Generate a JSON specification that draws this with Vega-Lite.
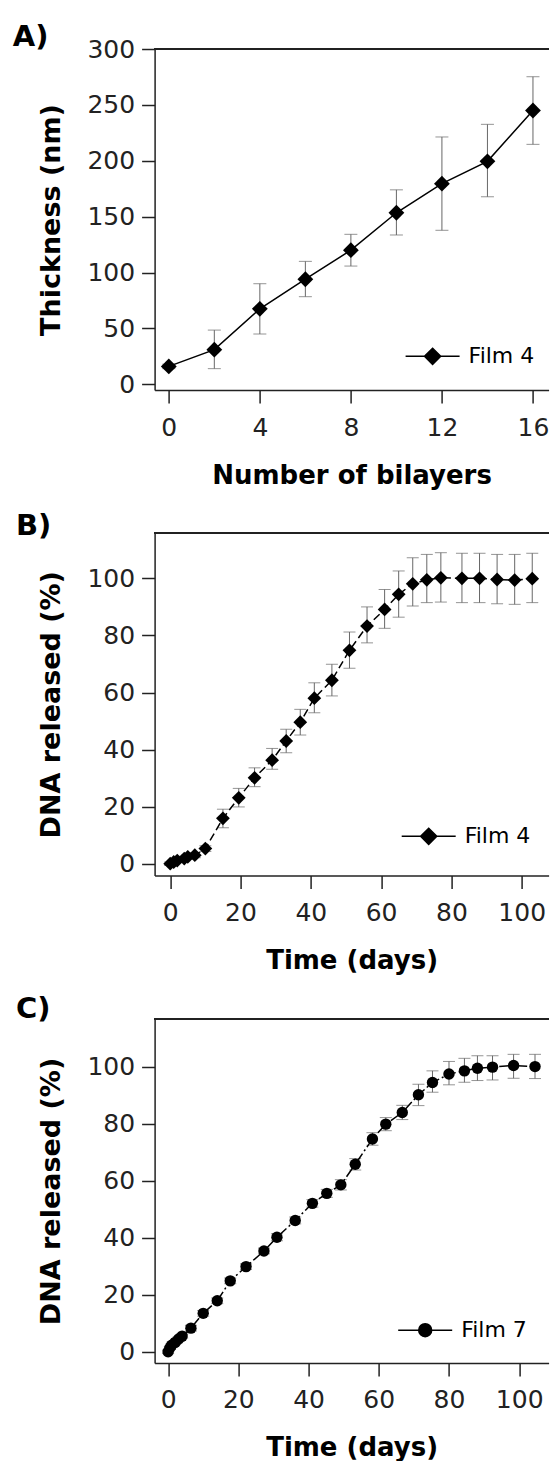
{
  "$schema": "https://vega.github.io/schema/vega-lite/v6.json",
  "autosize": {"type": "pad"},
  "padding": {"left": 12.6, "top": 23, "right": 0, "bottom": 0},
  "background": "white",
  "config": {
    "view": {"stroke": null},
    "font": "DejaVu Sans",
    "axis": {
      "grid": false,
      "domainColor": "#222",
      "domainWidth": 1.5,
      "tickColor": "#222",
      "tickWidth": 1.5,
      "tickSize": 13,
      "labelFont": "DejaVu Sans",
      "labelFontSize": 25,
      "labelColor": "#222",
      "titleFont": "DejaVu Sans",
      "titleFontSize": 26,
      "titleFontWeight": "bold",
      "titleColor": "black"
    },
    "axisX": {"labelPadding": 12, "titlePadding": 22},
    "axisY": {"labelPadding": 7, "titlePadding": 21, "titleFontSize": 27},
    "legend": {
      "labelFont": "DejaVu Sans",
      "labelFontSize": 22,
      "labelColor": "black",
      "labelOffset": 8,
      "padding": 0,
      "symbolStrokeWidth": 1.5,
      "symbolStrokeColor": "black",
      "symbolFillColor": "black",
      "symbolSize": 2916
    }
  },
  "datasets": {
    "a": [
      {"x": 0, "y": 16, "lo": 14, "hi": 18, "film": "Film 4"},
      {"x": 2, "y": 31, "lo": 14, "hi": 48.5, "film": "Film 4"},
      {"x": 4, "y": 67.5, "lo": 45, "hi": 90, "film": "Film 4"},
      {"x": 6, "y": 94, "lo": 78.4, "hi": 110, "film": "Film 4"},
      {"x": 8, "y": 120, "lo": 105.8, "hi": 134.2, "film": "Film 4"},
      {"x": 10, "y": 153.5, "lo": 133.6, "hi": 174, "film": "Film 4"},
      {"x": 12, "y": 179.5, "lo": 137.8, "hi": 221.3, "film": "Film 4"},
      {"x": 14, "y": 199.5, "lo": 167.8, "hi": 232.6, "film": "Film 4"},
      {"x": 16, "y": 245, "lo": 214.7, "hi": 275.2, "film": "Film 4"}
    ],
    "b": [
      {"x": 0, "y": 0, "lo": -0.6, "hi": 0.6, "film": "Film 4"},
      {"x": 1, "y": 0.6, "lo": 0, "hi": 1.2, "film": "Film 4"},
      {"x": 2, "y": 1.1, "lo": 0.4, "hi": 1.8, "film": "Film 4"},
      {"x": 4, "y": 1.8, "lo": 1.0, "hi": 2.6, "film": "Film 4"},
      {"x": 5, "y": 2.4, "lo": 1.6, "hi": 3.2, "film": "Film 4"},
      {"x": 7, "y": 3.0, "lo": 2.1, "hi": 3.9, "film": "Film 4"},
      {"x": 10, "y": 5.3, "lo": 4.3, "hi": 6.3, "film": "Film 4"},
      {"x": 15, "y": 15.9, "lo": 12.6, "hi": 19.1, "film": "Film 4"},
      {"x": 19.5, "y": 23.1, "lo": 19.9, "hi": 26.4, "film": "Film 4"},
      {"x": 24, "y": 30.1, "lo": 27.0, "hi": 33.6, "film": "Film 4"},
      {"x": 29, "y": 36.3, "lo": 33.1, "hi": 40.4, "film": "Film 4"},
      {"x": 33, "y": 43.0, "lo": 38.9, "hi": 47.1, "film": "Film 4"},
      {"x": 37, "y": 49.6, "lo": 45.1, "hi": 54.1, "film": "Film 4"},
      {"x": 41, "y": 58.0, "lo": 52.9, "hi": 63.4, "film": "Film 4"},
      {"x": 46, "y": 64.3, "lo": 58.8, "hi": 69.9, "film": "Film 4"},
      {"x": 51, "y": 74.8, "lo": 68.5, "hi": 81.2, "film": "Film 4"},
      {"x": 56, "y": 83.3, "lo": 77.4, "hi": 90.0, "film": "Film 4"},
      {"x": 61, "y": 89.1, "lo": 82.5, "hi": 96.1, "film": "Film 4"},
      {"x": 65, "y": 94.4, "lo": 86.4, "hi": 102.6, "film": "Film 4"},
      {"x": 69, "y": 98.1, "lo": 90.3, "hi": 107.2, "film": "Film 4"},
      {"x": 73, "y": 99.5, "lo": 91.5, "hi": 108.4, "film": "Film 4"},
      {"x": 77, "y": 100.2, "lo": 91.7, "hi": 109.0, "film": "Film 4"},
      {"x": 83, "y": 100.0, "lo": 91.5, "hi": 108.8, "film": "Film 4"},
      {"x": 88, "y": 100.0, "lo": 91.5, "hi": 108.8, "film": "Film 4"},
      {"x": 93, "y": 99.6, "lo": 91.1, "hi": 108.4, "film": "Film 4"},
      {"x": 98, "y": 99.4, "lo": 90.9, "hi": 108.4, "film": "Film 4"},
      {"x": 103, "y": 99.9, "lo": 91.5, "hi": 108.8, "film": "Film 4"}
    ],
    "c": [
      {"x": 0, "y": 0, "lo": -0.5, "hi": 0.5, "film": "Film 7"},
      {"x": 0.5, "y": 1.3, "lo": 0.8, "hi": 1.8, "film": "Film 7"},
      {"x": 1, "y": 2.3, "lo": 1.7, "hi": 2.9, "film": "Film 7"},
      {"x": 2, "y": 3.3, "lo": 2.7, "hi": 3.9, "film": "Film 7"},
      {"x": 3, "y": 4.5, "lo": 3.8, "hi": 5.2, "film": "Film 7"},
      {"x": 4, "y": 5.5, "lo": 4.8, "hi": 6.2, "film": "Film 7"},
      {"x": 6.5, "y": 8.3, "lo": 7.3, "hi": 9.3, "film": "Film 7"},
      {"x": 10, "y": 13.5, "lo": 12.5, "hi": 14.5, "film": "Film 7"},
      {"x": 14, "y": 17.9, "lo": 16.9, "hi": 18.9, "film": "Film 7"},
      {"x": 17.7, "y": 24.9, "lo": 23.9, "hi": 25.9, "film": "Film 7"},
      {"x": 22.2, "y": 29.9, "lo": 28.9, "hi": 30.9, "film": "Film 7"},
      {"x": 27.3, "y": 35.4, "lo": 34.4, "hi": 36.4, "film": "Film 7"},
      {"x": 31, "y": 40.2, "lo": 39.0, "hi": 41.4, "film": "Film 7"},
      {"x": 36.2, "y": 46.1, "lo": 44.9, "hi": 47.3, "film": "Film 7"},
      {"x": 41.1, "y": 52.1, "lo": 50.8, "hi": 53.4, "film": "Film 7"},
      {"x": 45.2, "y": 55.6, "lo": 54.2, "hi": 57.0, "film": "Film 7"},
      {"x": 49.2, "y": 58.6, "lo": 56.8, "hi": 60.4, "film": "Film 7"},
      {"x": 53.3, "y": 65.8, "lo": 63.8, "hi": 67.8, "film": "Film 7"},
      {"x": 58.2, "y": 74.7, "lo": 72.5, "hi": 76.9, "film": "Film 7"},
      {"x": 62, "y": 79.9, "lo": 77.6, "hi": 82.2, "film": "Film 7"},
      {"x": 66.7, "y": 84.0, "lo": 81.5, "hi": 86.5, "film": "Film 7"},
      {"x": 71.3, "y": 90.2, "lo": 86.4, "hi": 93.9, "film": "Film 7"},
      {"x": 75.3, "y": 94.5, "lo": 91.1, "hi": 98.6, "film": "Film 7"},
      {"x": 80, "y": 97.5, "lo": 93.7, "hi": 101.9, "film": "Film 7"},
      {"x": 84.4, "y": 98.6, "lo": 94.6, "hi": 103.0, "film": "Film 7"},
      {"x": 88.1, "y": 99.5, "lo": 95.2, "hi": 103.9, "film": "Film 7"},
      {"x": 92.4, "y": 99.9, "lo": 95.4, "hi": 103.9, "film": "Film 7"},
      {"x": 98.4, "y": 100.5, "lo": 96.0, "hi": 104.4, "film": "Film 7"},
      {"x": 104.5, "y": 100.1, "lo": 95.9, "hi": 104.4, "film": "Film 7"}
    ]
  },
  "spacing": 143,
  "bounds": "flush",
  "resolve": {"scale": {"color": "independent"}, "legend": {"color": "independent"}},
  "vconcat": [
    {
      "width": 394,
      "height": 341,
      "title": {"text": "A)", "anchor": "start", "frame": "group", "dx": -141.9, "offset": -38, "baseline": "alphabetic", "fontSize": 29, "fontWeight": "bold", "font": "DejaVu Sans", "color": "black"},
      "data": {"name": "a"},
      "encoding": {
        "x": {"field": "x", "type": "quantitative", "scale": {"domain": [-0.624, 16.687], "nice": false, "zero": false}, "axis": {"values": [0, 4, 8, 12, 16], "title": "Number of bilayers"}},
        "y": {"field": "y", "type": "quantitative", "scale": {"domain": [-5.1, 300], "nice": false, "zero": false}, "axis": {"values": [0, 50, 100, 150, 200, 250, 300], "title": "Thickness (nm)"}}
      },
      "layer": [
        {"mark": {"type": "rule", "color": "#222", "strokeWidth": 1.5}, "encoding": {"x": null, "y": {"datum": 300, "type": "quantitative"}}},
        {"mark": {"type": "rule", "color": "#666", "strokeWidth": 1}, "encoding": {"y": {"field": "lo", "type": "quantitative"}, "y2": {"field": "hi"}}},
        {"mark": {"type": "tick", "orient": "horizontal", "color": "#666", "size": 13, "thickness": 1}, "encoding": {"y": {"field": "lo", "type": "quantitative"}}},
        {"mark": {"type": "tick", "orient": "horizontal", "color": "#666", "size": 13, "thickness": 1}, "encoding": {"y": {"field": "hi", "type": "quantitative"}}},
        {"mark": {"type": "line", "color": "black", "strokeWidth": 1.5}},
        {"mark": {"type": "point", "shape": "diamond", "filled": true, "size": 250, "opacity": 1},
         "encoding": {"color": {"field": "film", "type": "nominal", "scale": {"range": ["black"]},
           "legend": {"title": null, "orient": "none", "legendX": 250, "legendY": 279.3, "symbolType": "M-1,0H1M0,-0.3L0.3,0L0,0.3L-0.3,0Z",
             "encode": {"symbols": {"update": {"fill": {"value": "black"}, "stroke": {"value": "black"}, "strokeWidth": {"value": 1.5}, "opacity": {"value": 1}}}}}}}}
      ]
    },
    {
      "width": 394,
      "height": 342.5,
      "title": {"text": "B)", "anchor": "start", "frame": "group", "dx": -138.7, "offset": -32, "baseline": "alphabetic", "fontSize": 29, "fontWeight": "bold", "font": "DejaVu Sans", "color": "black"},
      "data": {"name": "b"},
      "encoding": {
        "x": {"field": "x", "type": "quantitative", "scale": {"domain": [-4.44, 107.65], "nice": false, "zero": false}, "axis": {"values": [0, 20, 40, 60, 80, 100], "title": "Time (days)"}},
        "y": {"field": "y", "type": "quantitative", "scale": {"domain": [-4.13, 115.9], "nice": false, "zero": false}, "axis": {"values": [0, 20, 40, 60, 80, 100], "title": "DNA released (%)"}}
      },
      "layer": [
        {"mark": {"type": "rule", "color": "#222", "strokeWidth": 1.5}, "encoding": {"x": null, "y": {"datum": 115.9, "type": "quantitative"}}},
        {"mark": {"type": "rule", "color": "#666", "strokeWidth": 1}, "encoding": {"y": {"field": "lo", "type": "quantitative"}, "y2": {"field": "hi"}}},
        {"mark": {"type": "tick", "orient": "horizontal", "color": "#666", "size": 12, "thickness": 1}, "encoding": {"y": {"field": "lo", "type": "quantitative"}}},
        {"mark": {"type": "tick", "orient": "horizontal", "color": "#666", "size": 12, "thickness": 1}, "encoding": {"y": {"field": "hi", "type": "quantitative"}}},
        {"mark": {"type": "line", "color": "black", "strokeWidth": 1.5, "strokeDash": [8, 4]}},
        {"mark": {"type": "point", "shape": "diamond", "filled": true, "size": 190, "opacity": 1},
         "encoding": {"color": {"field": "film", "type": "nominal", "scale": {"range": ["black"]},
           "legend": {"title": null, "orient": "none", "legendX": 246.1, "legendY": 275.3, "symbolType": "M-1,0H1M0,-0.3L0.3,0L0,0.3L-0.3,0Z",
             "encode": {"symbols": {"update": {"fill": {"value": "black"}, "stroke": {"value": "black"}, "strokeWidth": {"value": 1.5}, "opacity": {"value": 1}}}}}}}}
      ]
    },
    {
      "width": 394,
      "height": 344,
      "title": {"text": "C)", "anchor": "start", "frame": "group", "dx": -138.7, "offset": -29, "baseline": "alphabetic", "fontSize": 29, "fontWeight": "bold", "font": "DejaVu Sans", "color": "black"},
      "data": {"name": "c"},
      "encoding": {
        "x": {"field": "x", "type": "quantitative", "scale": {"domain": [-3.845, 108.37], "nice": false, "zero": false}, "axis": {"values": [0, 20, 40, 60, 80, 100], "title": "Time (days)"}},
        "y": {"field": "y", "type": "quantitative", "scale": {"domain": [-3.93, 116.8], "nice": false, "zero": false}, "axis": {"values": [0, 20, 40, 60, 80, 100], "title": "DNA released (%)"}}
      },
      "layer": [
        {"mark": {"type": "rule", "color": "#222", "strokeWidth": 1.5}, "encoding": {"x": null, "y": {"datum": 116.8, "type": "quantitative"}}},
        {"mark": {"type": "rule", "color": "#666", "strokeWidth": 1}, "encoding": {"y": {"field": "lo", "type": "quantitative"}, "y2": {"field": "hi"}}},
        {"mark": {"type": "tick", "orient": "horizontal", "color": "#666", "size": 12, "thickness": 1}, "encoding": {"y": {"field": "lo", "type": "quantitative"}}},
        {"mark": {"type": "tick", "orient": "horizontal", "color": "#666", "size": 12, "thickness": 1}, "encoding": {"y": {"field": "hi", "type": "quantitative"}}},
        {"mark": {"type": "line", "color": "black", "strokeWidth": 1.5, "strokeDash": [10, 3, 2, 3]}},
        {"mark": {"type": "point", "shape": "circle", "filled": true, "size": 130, "opacity": 1},
         "encoding": {"color": {"field": "film", "type": "nominal", "scale": {"range": ["black"]},
           "legend": {"title": null, "orient": "none", "legendX": 242.6, "legendY": 283.2, "symbolType": "M-1,0H1M-0.24,0A0.24,0.24 0 1,0 0.24,0A0.24,0.24 0 1,0 -0.24,0Z",
             "encode": {"symbols": {"update": {"fill": {"value": "black"}, "stroke": {"value": "black"}, "strokeWidth": {"value": 1.5}, "opacity": {"value": 1}}}}}}}}
      ]
    }
  ]
}
